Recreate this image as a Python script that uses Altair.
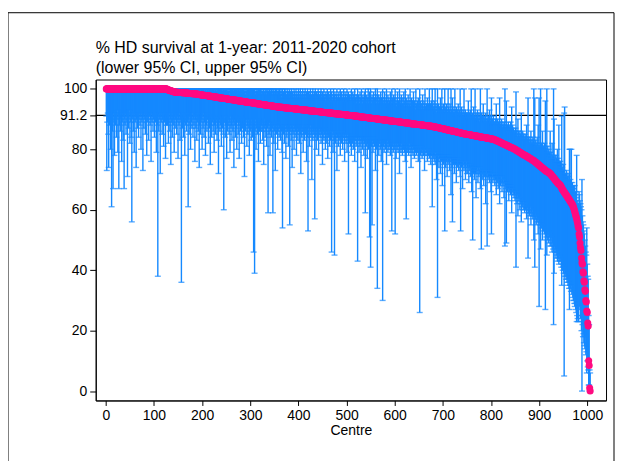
import altair as alt
import pandas as pd

# ---------------- text ----------------
TITLE_LINES = ["% HD survival at 1-year: 2011-2020 cohort", "(lower 95% CI, upper 95% CI)"]
X_TITLE = "Centre"
X_TICKS = [0, 100, 200, 300, 400, 500, 600, 700, 800, 900, 1000]
Y_TICKS = [0, 20, 40, 60, 80, 91.2, 100]
REF_LINE = 91.2

# ---------------- survival (sorted) ----------------
SURV_LEVELS = [
    100.0,
    99.8, 99.7, 99.6, 99.5, 99.4, 99.3, 99.2, 99.1, 99.0,
    98.9, 98.8, 98.7, 98.6, 98.5, 98.4,
    98.3, 98.2, 98.1, 98.0, 97.9, 97.8, 97.7, 97.6, 97.5, 97.4, 97.3, 97.2, 97.1, 97.0, 96.9, 96.8, 96.7,
    96.6, 96.5, 96.4, 96.3, 96.2, 96.1, 96.0, 95.9, 95.8, 95.7, 95.6, 95.5, 95.4, 95.3, 95.2, 95.1, 95.0, 94.9,
    94.8, 94.7, 94.6, 94.5, 94.4, 94.3, 94.2, 94.1, 94.0,
    93.9, 93.8, 93.7, 93.6, 93.5, 93.4, 93.3, 93.2, 93.1, 93.0, 92.9, 92.8, 92.7, 92.6, 92.5, 92.4, 92.3,
    92.2, 92.1, 92.0, 91.9, 91.8, 91.7, 91.6, 91.5, 91.4, 91.3,
    91.2, 91.1, 91.0, 90.9, 90.8, 90.7, 90.6, 90.5, 90.4, 90.3, 90.2, 90.1, 90.0, 89.9, 89.8, 89.7, 89.6,
    89.5, 89.4, 89.3, 89.2, 89.1, 89.0, 88.9, 88.8, 88.7, 88.6, 88.5, 88.4, 88.3, 88.2, 88.1, 88.0, 87.9,
    87.8, 87.7, 87.6, 87.5,
    87.4, 87.3, 87.2, 87.1, 87.0, 86.9, 86.8, 86.7, 86.6, 86.5, 86.4, 86.3, 86.2, 86.1, 86.0, 85.9, 85.8,
    85.7, 85.6, 85.5, 85.4, 85.3, 85.2, 85.1, 85.0,
    84.9, 84.8, 84.7, 84.6, 84.5, 84.4, 84.3, 84.2, 84.1, 84.0, 83.9, 83.8, 83.7, 83.6, 83.5, 83.4, 83.3,
    83.2, 83.1, 83.0, 82.9, 82.8, 82.7, 82.6, 82.5, 82.4, 82.3, 82.2, 82.1, 82.0, 81.9, 81.8, 81.7, 81.6,
    81.5, 81.4, 81.3, 81.2, 81.1, 81.0, 80.9, 80.8, 80.7, 80.6, 80.5, 80.4, 80.3, 80.2,
    80.1, 80.0, 79.9, 79.8, 79.7, 79.6, 79.5, 79.4, 79.3, 79.2, 79.1, 79.0, 78.9, 78.8, 78.7, 78.6, 78.5,
    78.4, 78.3, 78.2, 78.1, 78.0, 77.9, 77.8, 77.7, 77.6, 77.5, 77.4, 77.3, 77.2, 77.1, 77.0, 76.9, 76.8,
    76.7, 76.6, 76.5, 76.4, 76.3, 76.2,
]
SURV_COUNTS = [
    126,
    1, 2, 2, 2, 2, 2, 2, 2, 2,
    7, 7, 7, 7, 7, 7,
    4, 4, 4, 4, 4, 4, 4, 4, 4, 4, 4, 4, 4, 4, 4, 4, 4,
    3, 4, 4, 4, 4, 4, 4, 4, 4, 4, 4, 4, 4, 4, 4, 4, 4, 3,
    5, 4, 4, 4, 4, 4, 4, 4, 5,
    6, 5, 5, 6, 5, 5, 6, 5, 5, 6, 5, 5, 6, 5, 5, 6, 5,
    5, 6, 5, 5, 6, 5, 6, 5, 6, 5,
    5, 5, 4, 5, 5, 4, 5, 5, 4, 5, 5, 4, 5, 5, 4, 5, 5,
    4, 5, 5, 4, 5, 5, 4, 5, 5, 4, 5, 5, 4, 5, 5, 4, 5,
    5, 4, 4, 4,
    3, 3, 2, 3, 3, 2, 3, 3, 2, 3, 3, 2, 3, 3, 2, 3, 3,
    2, 3, 3, 2, 3, 3, 3, 3,
    4, 3, 3, 4, 3, 3, 4, 3, 3, 4, 3, 3, 4, 3, 3, 3, 3,
    2, 1, 1, 2, 1, 1, 2, 1, 1, 2, 1, 1, 2, 1, 1, 2, 1,
    1, 2, 1, 1, 2, 1, 1, 2, 1, 1, 2, 1, 1, 2,
    1, 1, 1, 1, 1, 1, 1, 1, 1, 1, 1, 1, 1, 1, 1, 1, 1,
    1, 1, 1, 1, 2, 1, 1, 1, 1, 1, 1, 1, 1, 1, 1, 1, 1,
    1, 1, 1, 1, 1, 1,
]
SURV_TAIL = [
    76.1, 76.0, 75.8, 75.7, 75.6, 75.4, 75.3, 75.2, 75.0, 74.9, 74.8, 74.6, 74.5, 74.4, 74.2, 74.1, 74.0,
    73.8, 73.7, 73.6, 73.4, 73.3, 73.2, 73.0, 72.9, 72.8, 72.7, 72.6, 72.5, 72.4, 72.3, 72.2, 72.1, 72.0,
    71.8, 71.6, 71.4, 71.2, 71.0, 70.8, 70.6, 70.4, 70.2, 70.0, 69.8, 69.6, 69.4, 69.2, 69.0, 68.8, 68.6,
    68.5, 68.4, 68.2, 68.1,
    67.8, 67.5, 67.2, 66.9, 66.6, 66.4, 66.1, 65.9, 65.6, 65.4,
    65.2, 65.0, 64.7, 64.5, 64.2, 64.0, 63.7, 63.5, 63.2, 63.0, 62.7, 62.5, 62.2, 62.0, 61.7, 61.4, 61.0,
    60.5, 60.0, 59.4, 58.8, 58.2, 57.7, 57.0, 56.3, 55.5, 54.5,
    54.0, 52.0, 51.0, 49.0, 47.5, 46.5, 44.0, 42.5, 42.0, 39.5, 39.0, 36.5, 36.0, 33.5, 33.0, 30.0,
    29.5, 26.5, 26.0, 22.5, 21.5, 10.0, 8.5, 1.0, 0.0,
]

# ---------------- lower 95% CI per centre ----------------
LOWER = [
    91, 73, 89, 92, 85, 74, 90, 88, 92, 80,
    90, 61, 91, 86, 67, 92, 89, 78, 91, 88,
    92, 84, 90, 93, 79, 91, 67, 88, 92, 86,
    90, 91, 76, 89, 92, 83, 91, 67, 90, 88,
    92, 85, 91, 89, 71, 92, 87, 90, 93, 82,
    91, 89, 84, 56, 92, 90, 86, 91, 79, 92,
    89, 91, 74, 90, 92, 87, 91, 84, 90, 92,
    88, 91, 80, 92, 89, 90, 73, 91, 87, 92,
    90, 85, 91, 92, 78, 89, 91, 90, 83, 92,
    91, 88, 90, 76, 92, 89, 91, 86, 90, 92,
    84, 91, 89, 92, 79, 90, 88, 38, 91, 86,
    92, 90, 72, 91, 89, 92, 85, 90, 91, 81,
    92, 89, 90, 77, 91, 88,
    90, 88, 91, 82, 89, 92, 86, 90, 75, 91,
    89, 84, 92, 88, 90, 79, 91, 87, 90, 92,
    85, 89, 91, 77, 90, 88, 92, 83, 90, 89,
    36, 91, 87, 90, 84, 92, 89, 78, 91, 88,
    90, 86, 92, 89, 61, 90, 85, 91, 88, 80,
    91, 89, 87, 92, 84, 90, 88, 91, 76,
    90, 87, 91, 83, 89, 92, 86, 90, 74, 88,
    91, 85, 89, 90, 80, 91, 87, 92, 84, 89,
    90, 78, 91, 88, 86, 90, 92, 82, 89, 87,
    91, 75, 90, 88, 84, 91, 89, 86, 90, 79,
    88, 91, 85, 89, 90, 83, 87, 91, 72, 89,
    90, 86, 88, 91, 81, 89, 87, 90, 85, 60,
    89, 91, 84, 88, 90, 77, 89, 86,
    88, 90, 85, 89, 79, 91, 87, 88, 83, 90,
    86, 89, 74, 90, 88, 84, 91, 87, 80, 89,
    90, 85, 88, 77, 89, 91, 86, 88, 82, 90,
    87, 89, 84, 90, 71, 88, 86, 89, 90, 81,
    88, 85, 90, 87, 78, 89, 86, 88, 83, 90,
    87, 84, 89, 46, 88, 39, 86, 90, 80, 87,
    89, 85, 88, 76, 90, 86, 87, 82, 89, 88,
    86, 89, 83, 88, 75, 87, 90, 84, 88, 86,
    81, 89, 87, 59, 88, 85, 89, 78, 86, 88,
    84, 89, 87, 59, 88, 82, 86, 89, 73, 87,
    88, 85, 89, 80, 86, 88, 84, 87,
    88, 83, 87, 86, 79, 54, 87, 85, 88, 82,
    86, 88, 77, 87, 84, 86, 88, 81, 87, 85,
    55, 86, 88, 83, 87, 74, 86, 85, 88, 80,
    87, 84, 86, 88, 78, 85, 87, 83, 86, 88,
    82, 86, 85, 72, 87, 84, 86, 88, 79, 85,
    87, 83, 86, 85, 88, 76, 86, 84, 53, 87,
    85, 81, 86, 88, 84, 85, 70, 87, 83, 86,
    85, 87, 57, 84, 86, 80, 87, 85, 83, 86,
    78, 85, 87, 84, 86, 82, 85, 87, 75, 84,
    86, 83, 85, 87, 80, 84, 86, 82, 85, 77,
    86, 84, 85, 81, 86, 83, 85, 46, 84, 86,
    79, 85, 83, 45, 86, 82, 84, 85, 73, 84,
    86, 81, 84, 85, 83, 78, 85, 84, 82, 86,
    80, 84, 85, 83, 76, 84, 85, 82, 84, 79,
    85, 83, 52, 84, 82,
    84, 81, 83, 78, 84, 82, 85, 80, 83, 84,
    76, 83, 84, 81, 84, 82, 43, 83, 84, 79,
    83, 81, 84, 74, 83, 82, 80, 84, 83, 78,
    82, 84, 59, 83, 81, 84, 77, 82, 83, 80,
    84, 51, 82, 41, 83, 81, 55, 83, 79, 82,
    84, 81, 83, 73, 82, 80, 83, 34, 82, 81,
    78, 83, 82, 80, 83, 76, 81, 82, 30, 83,
    81, 79, 82, 83, 80, 82, 75, 81, 83, 79,
    82, 80, 81, 83, 78, 82, 80, 53, 81, 82,
    79, 82, 80, 81, 52, 82, 77, 81, 80, 82,
    79, 81, 82, 72, 80, 81, 79, 82, 80, 78,
    81, 80, 82, 79, 81, 76, 80, 57, 81, 79,
    80, 81, 78, 80, 82, 79, 81, 74, 80, 79,
    81, 78, 80, 81, 77, 80, 79, 81, 78, 80,
    79, 81, 76, 80, 79, 26, 80, 78, 81, 79,
    77, 80, 79, 78, 80, 73, 79, 80, 78, 79,
    80, 76, 79, 78, 80, 77, 79, 78, 75, 79,
    78, 61, 79, 77, 78, 76,
    78, 75, 79, 77, 70, 78, 31, 76, 78, 74,
    77, 79, 72, 77, 76, 78, 68, 77, 75, 78,
    76, 53, 77, 74, 78, 76, 71, 77, 75, 76,
    78, 73, 76, 77, 65, 76, 74, 56, 77, 75,
    76, 72, 77, 75, 76, 69, 75, 77, 74, 76,
    73, 76, 75, 71, 53, 76, 74, 75, 67, 75,
    76, 73, 75, 74, 70, 75, 76, 72,
    74, 72, 75, 69, 74, 73, 75, 71, 74, 66,
    73, 50, 74, 72, 73, 70, 74, 72, 64, 73,
    72, 74, 69, 73, 71, 74, 72, 67, 73, 47,
    72, 73, 70, 72, 68, 73, 71, 72, 62, 71,
    73, 48, 72, 70, 71, 73, 69, 72, 71, 66,
    52, 71, 72, 69, 71, 70,
    71, 68, 70, 72, 65, 70, 69, 71, 67, 70,
    69, 62, 70, 68, 69, 71, 66, 69, 68, 70,
    64, 69, 48, 68, 67, 49, 69, 66, 68, 67,
    63, 68, 66, 67, 65, 68, 59, 66, 67, 65,
    66, 64,
    65, 63, 66, 41, 64, 62, 65, 58, 64, 63,
    64, 60, 63, 62, 56, 63, 61, 62, 60, 63,
    61, 59, 62, 60, 61, 57, 60, 61, 44, 59,
    60, 58, 59, 61, 55, 59, 58, 60, 57, 58,
    50,
    58, 41, 57, 59, 55, 58, 56, 57, 52, 57,
    28, 56, 55, 47, 56, 54, 55, 50, 55, 53,
    54, 52, 54, 27, 53, 51, 45, 52, 50, 53,
    49, 52, 51, 48,
    50, 48, 51, 46, 49, 47, 22, 39, 48, 46,
    47, 44, 46, 45, 43, 46, 44, 42, 45, 43,
    44,
    43, 41, 35, 42, 40, 41, 39, 5, 40, 38,
    39, 37, 38, 36, 37, 35, 36, 34, 27, 35,
    34, 33, 35, 32, 33, 31, 30,
    30, 29, 28, 29, 27, 26, 23, 25, 24, 23,
    23, 30, 28, 27, 24, 25, 20, 0, 22, 18,
    19, 16, 15, 14, 18, 12, 13, 6, 10, 8,
    7, 2, 2, 0, 0,
]

# ---------------- upper 95% CI per centre ----------------
UPPER_AT_100 = [100] * 185  # the first 185 centres all reach 100
UPPER_REST = [
    100, 100, 99, 100, 100, 100, 99, 100, 100, 100,
    100, 99, 100, 100, 100, 100, 99, 100, 100, 99,
    100, 100, 100, 99, 100, 100, 100, 99, 100, 100,
    100, 100, 99, 100, 100, 99, 100, 100, 100, 100,
    99, 100, 100, 100, 99, 100, 100, 99, 100, 100,
    100, 99, 100, 100, 100, 100, 99, 100, 100, 100,
    99, 100, 100, 100, 99, 100, 100, 99,
    100, 99, 100, 98, 100, 100, 99, 100, 99, 100,
    100, 99, 100, 100, 98, 100, 99, 100, 100, 99,
    100, 98, 100, 100, 99, 100, 100, 99, 100, 98,
    100, 99, 100, 100, 99, 100, 98, 100, 99, 100,
    100, 99, 100, 98, 100, 99, 100, 100, 99, 100,
    98, 100, 99, 100, 100, 100, 99, 98, 100, 99,
    100, 99, 100, 100, 98, 100, 99, 100, 99, 98,
    100, 99, 98, 100, 100, 99, 98, 100, 99, 100,
    98, 100, 99, 100, 99, 98, 100, 100, 99, 98,
    100, 99, 98, 100, 99, 100, 98, 99, 100, 99,
    98, 100, 99, 98, 100, 99, 98, 100,
    99, 98, 100, 97, 99, 100, 98, 99, 97, 100,
    98, 99, 100, 98, 97, 99, 100, 98, 99, 97,
    100, 98, 99, 97, 100, 98, 99, 98, 97, 100,
    99, 98, 97, 100, 98, 99, 97, 98, 100, 99,
    97, 98, 100, 99, 97, 98, 99, 100, 98, 97,
    99, 98, 100, 97, 98, 99, 97, 100, 98, 99,
    97, 98, 99, 100, 97, 98, 96, 99, 100, 98,
    97, 99, 98, 100, 97, 98, 99, 97, 98, 100,
    99, 97, 98, 96, 99, 100, 97, 98, 99, 97,
    98, 100, 97, 98, 96, 99, 98, 97, 100, 98,
    97, 99, 98, 96, 97, 100, 98, 99, 97, 96,
    98, 100, 97, 98, 99, 96, 97, 98, 100, 97,
    96, 98, 99, 97, 96, 100, 98, 97, 99, 96,
    97, 98, 100, 96, 97, 99, 98, 96, 97, 100,
    98, 96, 99, 97, 98,
    97, 96, 98, 100, 96, 97, 99, 96, 98, 97,
    100, 96, 97, 98, 95, 97, 100, 96, 98, 97,
    95, 99, 97, 96, 100, 97, 95, 98, 96, 97,
    99, 96, 100, 97, 95, 98, 96, 97, 100, 95,
    97, 99, 96, 100, 97, 95, 98, 96, 97, 99,
    95, 97, 96, 100, 98, 95, 97, 100, 96, 95,
    98, 96, 97, 95, 99, 96, 97, 95, 100, 96,
    95, 97, 99, 96, 95, 97, 100, 95, 96, 98,
    95, 97, 96, 94, 99, 96, 95, 100, 97, 95,
    96, 98, 95, 97, 100, 95, 96, 94, 97, 99,
    95, 96, 94, 100, 97, 95, 96, 98, 94, 95,
    97, 95, 99, 94, 96, 100, 95, 97, 94, 96,
    95, 98, 94, 96, 95, 100, 94, 96, 97, 94,
    96, 95, 99, 94, 96, 95, 93, 100, 95, 94,
    96, 94, 97, 95, 93, 100, 94, 96, 95, 93,
    95, 98, 94, 93, 96, 95, 100, 94, 93, 95,
    94, 97, 93, 95, 94, 100, 93, 95, 94, 96,
    93, 100, 95, 94, 93, 96,
    94, 100, 93, 95, 92, 94, 100, 93, 95, 92,
    94, 93, 97, 92, 94, 100, 93, 92, 95, 93,
    92, 100, 94, 93, 92, 95, 93, 92, 100, 94,
    92, 93, 95, 92, 100, 93, 92, 97, 94, 92,
    93, 92, 100, 93, 91, 94, 92, 93, 91, 95,
    92, 91, 93, 100, 92, 91, 94, 92, 91, 93,
    91, 100, 92, 91, 93, 91, 92, 90,
    92, 91, 96, 90, 92, 91, 93, 90, 100, 91,
    90, 92, 91, 94, 90, 91, 100, 90, 92, 91,
    90, 93, 91, 90, 92, 89, 91, 100, 90, 92,
    89, 91, 90, 95, 89, 91, 90, 89, 92, 90,
    89, 100, 90, 89, 91, 89, 93, 90, 89, 91,
    97, 89, 90, 88, 91, 89,
    89, 88, 90, 88, 95, 89, 88, 90, 88, 89,
    88, 97, 89, 88, 87, 90, 88, 87, 89, 88,
    87, 89, 100, 87, 88, 96, 87, 88, 87, 89,
    86, 88, 87, 86, 89, 87, 94, 86, 88, 86,
    87, 86,
    86, 85, 87, 99, 86, 85, 84, 90, 86, 85,
    84, 86, 85, 84, 92, 85, 84, 86, 83, 85,
    84, 83, 85, 84, 83, 88, 84, 83, 97, 84,
    83, 82, 84, 83, 86, 82, 83, 82, 84, 83,
    100,
    82, 97, 81, 83, 82, 81, 84, 82, 88, 81,
    97, 81, 82, 100, 80, 82, 81, 86, 80, 81,
    80, 82, 80, 96, 81, 80, 100, 79, 81, 79,
    80, 78, 79, 86,
    78, 79, 77, 82, 78, 77, 100, 90, 77, 78,
    76, 78, 77, 76, 80, 76, 77, 88, 76, 75,
    76,
    75, 74, 91, 74, 73, 75, 73, 92, 94, 72,
    72, 71, 73, 70, 71, 72, 70, 71, 80, 80,
    70, 69, 80, 68, 69, 67, 68,
    67, 66, 68, 65, 66, 64, 78, 63, 62, 61,
    62, 66, 65, 63, 62, 61, 60, 70, 58, 56,
    55, 53, 52, 50, 48, 46, 45, 54, 42, 38,
    37, 25, 22, 7, 6,
]
UPPER = UPPER_AT_100 + UPPER_REST

# ---------------- style ----------------
BLUE = "#1589ff"
PINK = "#ff0a80"
FONT = "Liberation Sans"

surv = []
for v, c in zip(SURV_LEVELS, SURV_COUNTS):
    surv.extend([v] * c)
surv.extend(SURV_TAIL)

n = min(len(surv), len(LOWER), len(UPPER))
df = pd.DataFrame({
    "centre": list(range(1, n + 1)),
    "surv": surv[:n],
    "lo": LOWER[:n],
    "hi": UPPER[:n],
})

xscale = alt.Scale(domain=[-21, 1039], nice=False, zero=False)
yscale = alt.Scale(domain=[-3.1, 103.1], nice=False, zero=False)

xaxis = alt.Axis(values=X_TICKS, format="d", title=X_TITLE, tickSize=5,
                 labelPadding=3, titlePadding=1, grid=False)
yaxis = alt.Axis(values=Y_TICKS, labelExpr="'' + datum.value", title=None, tickSize=6,
                 labelPadding=3, grid=False)

base = alt.Chart(df)

ref = alt.Chart(pd.DataFrame({"y": [REF_LINE]})).mark_rule(
    color="black", strokeWidth=1.3
).encode(y=alt.Y("y:Q", scale=yscale, axis=yaxis))

bars = base.mark_rule(color=BLUE, strokeWidth=1.4).encode(
    x=alt.X("centre:Q", scale=xscale, axis=xaxis),
    y=alt.Y("lo:Q", scale=yscale, axis=yaxis),
    y2="hi:Q",
)
cap_lo = base.mark_tick(color=BLUE, orient="horizontal", size=6, thickness=1.4).encode(
    x=alt.X("centre:Q", scale=xscale), y=alt.Y("lo:Q", scale=yscale)
)
cap_hi = base.mark_tick(color=BLUE, orient="horizontal", size=6, thickness=1.4).encode(
    x=alt.X("centre:Q", scale=xscale), y=alt.Y("hi:Q", scale=yscale)
)
dots = base.mark_circle(color=PINK, size=50, opacity=1).encode(
    x=alt.X("centre:Q", scale=xscale), y=alt.Y("surv:Q", scale=yscale)
)

border = alt.Chart(pd.DataFrame({"a": [0]})).mark_rect(
    fillOpacity=0, stroke="black", strokeWidth=1, clip=False
).encode(x=alt.value(-88), x2=alt.value(520), y=alt.value(-67), y2=alt.value(470))

title1 = alt.Chart(pd.DataFrame({"t": [TITLE_LINES[0]]})).mark_text(
    align="left", baseline="alphabetic", font=FONT, fontSize=16, color="black"
).encode(x=alt.value(0), y=alt.value(-27), text="t:N")
title2 = alt.Chart(pd.DataFrame({"t": [TITLE_LINES[1]]})).mark_text(
    align="left", baseline="alphabetic", font=FONT, fontSize=16, color="black"
).encode(x=alt.value(0), y=alt.value(-7), text="t:N")

chart = alt.layer(border, ref, bars, cap_lo, cap_hi, dots, title1, title2).properties(
    width=512,
    height=322,
    autosize=alt.AutoSizeParams(type="none"),
    padding={"left": 88, "top": 71, "right": 10, "bottom": 62},
    background="white",
).configure_axis(
    labelFont=FONT, labelFontSize=14, labelColor="black",
    titleFont=FONT, titleFontSize=14, titleFontWeight="normal", titleColor="black",
    tickColor="black", domainColor="black", domainWidth=1, tickWidth=1,
).configure_view(stroke="black", strokeWidth=1)

chart.save("out.html", embed_options={"renderer": "svg", "actions": False})
